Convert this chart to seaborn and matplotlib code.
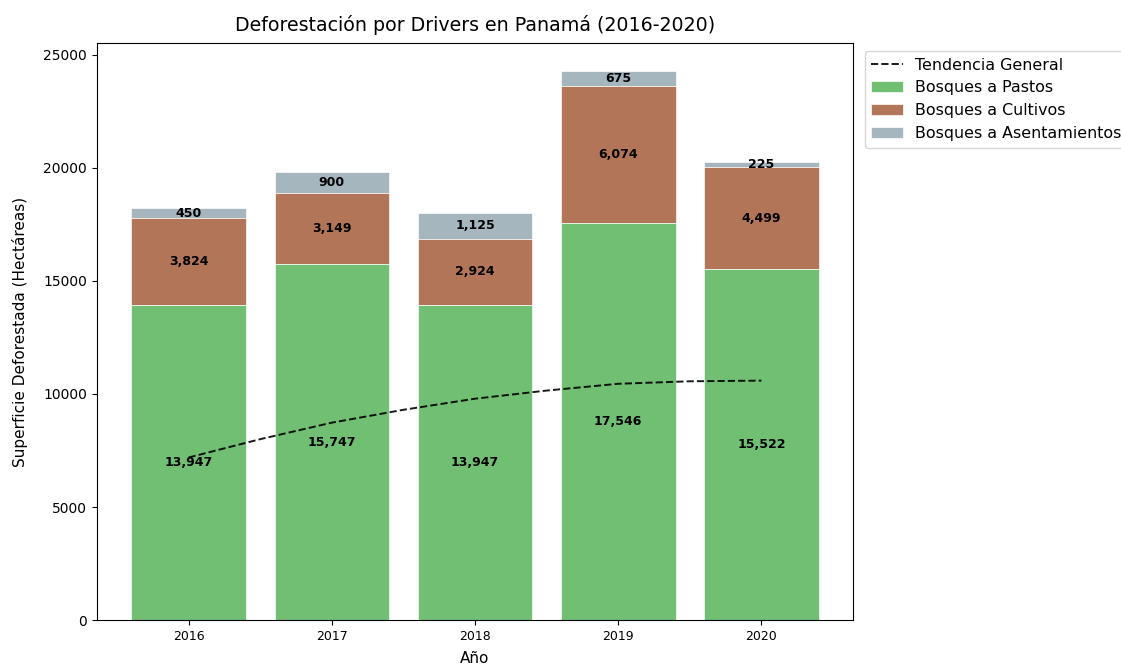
import matplotlib
matplotlib.use('Agg')
import matplotlib.pyplot as plt
import seaborn as sns
import pandas as pd
import numpy as np

years = ['2016', '2017', '2018', '2019', '2020']
pastos = [13947, 15747, 13947, 17546, 15522]
cultivos = [3824, 3149, 2924, 6074, 4499]
asentamientos = [450, 900, 1125, 675, 225]

# trend line (years and half years)
trend_x = [0, 0.5, 1, 1.5, 2, 2.5, 3, 3.5, 4]
trend_y = [7190, 8000, 8730, 9300, 9790, 10150, 10450, 10560, 10590]

colors = {'pastos': '#4CAF50', 'cultivos': '#A0522D', 'asent': '#90A4AE'}

df = pd.DataFrame({'year': years, 'pastos': pastos, 'cultivos': cultivos, 'asent': asentamientos})
df['mid'] = df['pastos'] + df['cultivos']
df['total'] = df['mid'] + df['asent']

fig = plt.figure(figsize=(11.21, 6.66), dpi=100)
ax = fig.add_axes([0.0865, 0.069, 0.6745, 0.866])

bar_kw = dict(width=0.8, saturation=1, ax=ax, edgecolor='white', linewidth=0.6)

# stacked bars: draw cumulative totals from the top down
sns.barplot(data=df, x='year', y='total', color=colors['asent'], alpha=0.8,
            label='Bosques a Asentamientos', **bar_kw)
sns.barplot(data=df, x='year', y='mid', color='white', alpha=1, **bar_kw)
sns.barplot(data=df, x='year', y='mid', color=colors['cultivos'], alpha=0.8,
            label='Bosques a Cultivos', **bar_kw)
sns.barplot(data=df, x='year', y='pastos', color='white', alpha=1, **bar_kw)
sns.barplot(data=df, x='year', y='pastos', color=colors['pastos'], alpha=0.8,
            label='Bosques a Pastos', **bar_kw)

sns.lineplot(x=trend_x, y=trend_y, color='black', linestyle='--', linewidth=1.4,
             alpha=0.9, ax=ax, label='Tendencia General')

for i in range(len(years)):
    ax.text(i, pastos[i] / 2, f'{pastos[i]:,}', ha='center', va='center',
            fontsize=9, fontweight='bold')
    ax.text(i, pastos[i] + cultivos[i] / 2, f'{cultivos[i]:,}', ha='center', va='center',
            fontsize=9, fontweight='bold')
    ax.text(i, df['mid'][i] + asentamientos[i] / 2, f'{asentamientos[i]:,}', ha='center',
            va='center', fontsize=9, fontweight='bold')

ax.set_xlim(-0.64, 4.64)
ax.set_ylim(0, 25510)
ax.set_title('Deforestación por Drivers en Panamá (2016-2020)', fontsize=13.7, pad=9)
ax.set_xlabel('Año', fontsize=11, labelpad=6)
ax.set_ylabel('Superficie Deforestada (Hectáreas)', fontsize=11, labelpad=11)
ax.tick_params(axis='x', labelsize=9)
ax.tick_params(axis='y', labelsize=10)

handles, labels = ax.get_legend_handles_labels()
order = ['Tendencia General', 'Bosques a Pastos', 'Bosques a Cultivos', 'Bosques a Asentamientos']
hmap = dict(zip(labels, handles))
ax.legend([hmap[l] for l in order], order, loc='upper left', bbox_to_anchor=(1.005, 1.0),
          fontsize=11.4)

plt.savefig('out.png', dpi=100)
